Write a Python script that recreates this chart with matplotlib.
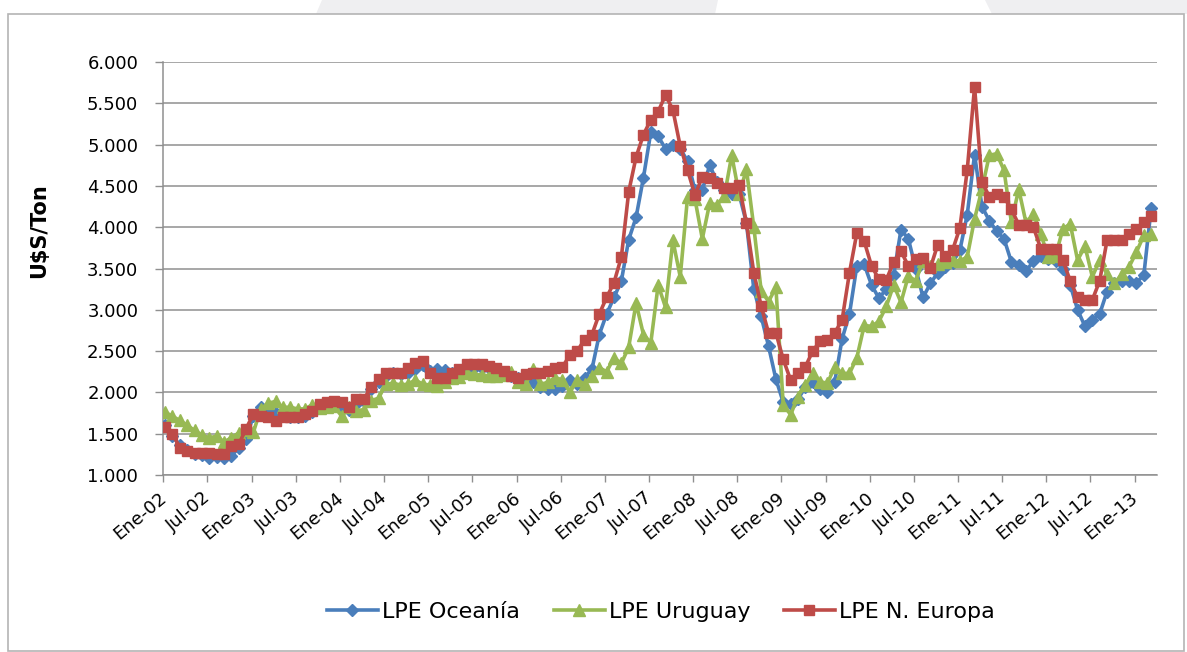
import numpy as np
import matplotlib
matplotlib.use("Agg")
import matplotlib.pyplot as plt
from matplotlib.lines import Line2D
from matplotlib.patches import Rectangle, Polygon
from matplotlib.ticker import FuncFormatter, FixedLocator
from matplotlib.transforms import ScaledTranslation

# ---------------- data (monthly, Ene-02 .. Mar-13) ----------------
oceania = [1610, 1470, 1360, 1300, 1260, 1240, 1210, 1220, 1200, 1230, 1330, 1440,
           1720, 1820, 1780, 1750, 1720, 1700, 1700, 1720, 1760, 1810, 1840, 1860,
           1800, 1790, 1860, 1900, 2040, 2120, 2200, 2230, 2220, 2240, 2280, 2330,
           2260, 2280, 2270, 2230, 2250, 2280, 2300, 2300, 2290, 2260, 2240, 2200,
           2170, 2150, 2130, 2060, 2040, 2040, 2080, 2150, 2100, 2180, 2280, 2700,
           2950, 3150, 3350, 3850, 4120, 4600, 5150, 5100, 4950, 5000, 4950, 4800,
           4450, 4450, 4750, 4550, 4450, 4400, 4400, 4050, 3250, 2920, 2560, 2160,
           1880, 1860, 1920, 2060, 2120, 2040, 2000, 2130, 2650, 2950, 3530, 3550,
           3300, 3140, 3250, 3420, 3970, 3860, 3500, 3150, 3320, 3450, 3520, 3570,
           3720, 4150, 4880, 4250, 4080, 3950, 3860, 3580, 3540, 3470, 3590, 3650,
           3620, 3590, 3500, 3300, 3000, 2800, 2880, 2950, 3220, 3330, 3350, 3350,
           3330, 3420, 4230]

uruguay = [1760, 1710, 1660, 1600, 1540, 1480, 1450, 1470, 1400, 1450, 1510, 1550,
           1520, 1800, 1870, 1890, 1820, 1820, 1800, 1800, 1850, 1810, 1820, 1830,
           1710, 1820, 1780, 1790, 1900, 1930, 2100, 2110, 2090, 2100, 2150, 2100,
           2090, 2080, 2120, 2180, 2190, 2240, 2220, 2210, 2200, 2200, 2210, 2250,
           2120, 2100, 2280, 2100, 2120, 2180, 2150, 2000, 2150, 2100, 2200, 2300,
           2250, 2420, 2350, 2550, 3080, 2700, 2600, 3300, 3030, 3840, 3400, 4370,
           4340, 3860, 4290, 4270, 4380, 4870, 4400, 4700, 4000, 3230, 3100, 3270,
           1850, 1730, 1950, 2090, 2230, 2130, 2110, 2310, 2230, 2230, 2420, 2810,
           2800, 2860, 3040, 3300, 3090, 3410, 3350, 3590, 3530, 3550, 3580, 3600,
           3590, 3640, 4100, 4460, 4870, 4890, 4690, 4060, 4460, 4050, 4160, 3920,
           3640, 3650, 3980, 4040, 3600, 3770, 3400, 3600, 3430, 3320, 3430, 3520,
           3700, 3900, 3920]

n_europa = [1580, 1500, 1330, 1290, 1270, 1270, 1270, 1250, 1250, 1350, 1370, 1560,
            1740, 1720, 1700, 1650, 1700, 1700, 1700, 1740, 1780, 1860, 1880, 1900,
            1880, 1820, 1920, 1920, 2060, 2160, 2240, 2230, 2240, 2300, 2360, 2380,
            2240, 2180, 2180, 2240, 2280, 2340, 2340, 2340, 2320, 2300, 2260, 2200,
            2180, 2220, 2240, 2240, 2260, 2300, 2310, 2450, 2500, 2640, 2700, 2950,
            3150, 3330, 3640, 4430, 4850, 5120, 5300, 5400, 5600, 5420, 4980, 4690,
            4390, 4610, 4590, 4540, 4470, 4470, 4510, 4050, 3450, 3045, 2720, 2720,
            2400, 2150, 2230, 2310, 2500, 2620, 2640, 2720, 2880, 3450, 3930, 3830,
            3530, 3370, 3360, 3580, 3710, 3530, 3610, 3630, 3510, 3790, 3650, 3720,
            3990, 4690, 5700, 4550, 4370, 4400, 4360, 4220, 4030, 4030, 4000, 3740,
            3740, 3740, 3600, 3350, 3150, 3120, 3120, 3350, 3840, 3840, 3840, 3920,
            3980, 4060, 4140]

tick_labels = ["Ene-02", "Jul-02", "Ene-03", "Jul-03", "Ene-04", "Jul-04", "Ene-05",
               "Jul-05", "Ene-06", "Jul-06", "Ene-07", "Jul-07", "Ene-08", "Jul-08",
               "Ene-09", "Jul-09", "Ene-10", "Jul-10", "Ene-11", "Jul-11", "Ene-12",
               "Jul-12", "Ene-13"]

series_names = ["LPE Oceanía", "LPE Uruguay", "LPE N. Europa"]
y_label = "U$S/Ton"

# ---------------- figure ----------------
W, H = 1187, 652
plt.rcParams['font.family'] = ['DejaVu Sans']
fig = plt.figure(figsize=(W / 100, H / 100), dpi=100)
fig.patch.set_facecolor("white")

def fx(px):
    return px / W

def fy(py):
    return 1 - py / H

TOP = 14
# background slide decoration at top
bg = "#efeff1"
fig.patches.append(Polygon([(fx(322), fy(0)), (fx(718), fy(0)), (fx(715), fy(TOP)), (fx(316), fy(TOP))],
                           closed=True, transform=fig.transFigure, facecolor=bg, edgecolor="none", zorder=-3))
fig.patches.append(Polygon([(fx(985), fy(0)), (fx(1187), fy(0)), (fx(1187), fy(TOP)), (fx(992), fy(TOP))],
                           closed=True, transform=fig.transFigure, facecolor=bg, edgecolor="none", zorder=-3))
# chart frame
fig.patches.append(Rectangle((fx(8), fy(651)), fx(1184 - 8), fy(TOP) - fy(651),
                             transform=fig.transFigure, facecolor="white", edgecolor="#b4b4b4",
                             linewidth=1.2, zorder=-2))

left_px, right_px, top_px, bot_px = 163.3, 1156.7, 62, 475
ax = fig.add_axes([fx(left_px), fy(bot_px), fx(right_px - left_px), fy(top_px) - fy(bot_px)])
ax.set_facecolor("none")

x = np.arange(len(oceania))
colors = ["#4A7EBB", "#98B954", "#BE4B48"]
markers = ["D", "^", "s"]
msizes = [6.0, 8.5, 6.5]
data = [oceania, uruguay, n_europa]
for vals, c, m, ms, name, z in zip(data, colors, markers, msizes, series_names, [3, 4, 5]):
    ax.plot(x, vals, color=c, marker=m, markersize=ms, markerfacecolor=c, markeredgecolor=c,
            linewidth=2.6, label=name, zorder=z, solid_joinstyle="round")

ax.set_xlim(-0.25, 134.75)
ax.set_ylim(1000, 6000)
ax.yaxis.set_major_locator(FixedLocator(np.arange(1000, 6001, 500)))
ax.yaxis.set_major_formatter(FuncFormatter(lambda v, p: f"{v:,.0f}".replace(",", ".")))
tick_pos = np.arange(len(tick_labels)) * 6 - 0.25
ax.set_xticks(tick_pos)
ax.set_xticklabels(tick_labels, rotation=40, ha="right", va="top")

grid_c = "#8f8f8f"
ax.grid(axis="y", color=grid_c, linewidth=1.1, zorder=0)
ax.set_axisbelow(True)
for s in ["top", "right"]:
    ax.spines[s].set_visible(False)
for s in ["left", "bottom"]:
    ax.spines[s].set_color(grid_c)
    ax.spines[s].set_linewidth(1.1)

ax.tick_params(axis="y", direction="out", length=5.5, width=1.0, color=grid_c, pad=12.5,
               labelsize=13, labelcolor="black")
ax.tick_params(axis="x", direction="out", length=5, width=1.0, color=grid_c, pad=5,
               labelsize=13, labelcolor="black")
offset = ScaledTranslation(7 / 100, 0, fig.dpi_scale_trans)
for lbl in ax.get_xticklabels():
    lbl.set_transform(lbl.get_transform() + offset)

fig.text(fx(39), fy(231), y_label, rotation=90, ha="center", va="center",
         fontsize=15, fontweight="bold")

handles = [Line2D([0], [0], color=c, marker=m, markersize=ms, linewidth=2.6,
                  markerfacecolor=c, markeredgecolor=c)
           for c, m, ms in zip(colors, markers, msizes)]
fig.legend(handles, series_names, loc="center", bbox_to_anchor=(fx(661), fy(612)), ncol=3,
           frameon=False, fontsize=16, handlelength=2.3, handletextpad=0.2, columnspacing=1.5)

fig.savefig("out.png", dpi=100)
